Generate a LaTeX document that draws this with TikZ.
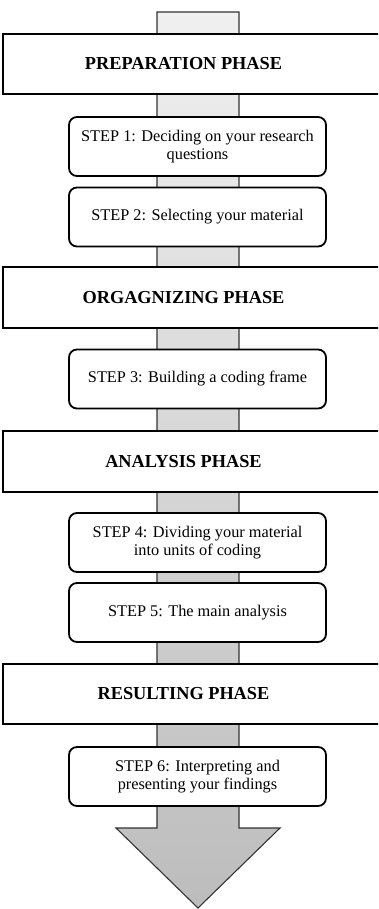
\documentclass[tikz,border=0pt]{standalone}
\usepackage{fontspec}
\setmainfont{Liberation Serif}
\begin{document}
\begin{tikzpicture}[x=1pt,y=-1pt,
  phase/.style={minimum width=345pt, minimum height=60pt, inner sep=0pt,
    font=\fontsize{18.3}{21}\selectfont\bfseries},
  phaseframe/.style={draw=black, line width=1.8pt, fill=white},
  stepbox/.style={draw=black, line width=1.8pt, fill=white, rounded corners=8pt,
    minimum width=257pt, minimum height=59pt, inner sep=0pt, align=center,
    font=\fontsize{16.3}{18}\selectfont},
  flow/.style={draw=black!80, line width=1.1pt, top color=black!6, bottom color=black!26}]
\useasboundingbox (0,0) rectangle (378,909);
\clip (0,0) rectangle (378,909);

% the downward flow arrow behind all boxes
\coordinate (top) at (198,12);
\coordinate (tip) at (198,908);
\draw[flow] ([xshift=-41pt]top) -- ([xshift=41pt]top) -- (239,828) -- (280,828)
  -- (tip) -- (116,828) -- (157,828) -- cycle;

% phases
\node[phase] (p1) at (183.5,64) {};
\node[phase] (p2) at (183.5,297.5) {};
\node[phase] (p3) at (183.5,461.5) {};
\node[phase] (p4) at (183.5,694) {};
\foreach \p in {p1,p2,p3,p4}
  \draw[phaseframe] ([xshift=-7.5pt]\p.north west) rectangle ([xshift=40pt]\p.south east);
\node[phase] at (p1) {PREPARATION PHASE};
\node[phase] at (p2) {ORGAGNIZING PHASE};
\node[phase] at (p3) {ANALYSIS PHASE};
\node[phase] at (p4) {RESULTING PHASE};

% steps
\node[stepbox] (s1) at (197.5,146.5) {STEP 1: Deciding on your research\\questions};
\node[stepbox] (s2) at (197.5,217) {STEP 2: Selecting your material};
\node[stepbox] (s3) at (197.5,379) {STEP 3: Building a coding frame};
\node[stepbox] (s4) at (197.5,542.5) {STEP 4: Dividing your material\\into units of coding};
\node[stepbox] (s5) at (197.5,612.5) {STEP 5: The main analysis};
\node[stepbox] (s6) at (197.5,776.5) {STEP 6: Interpreting and\\presenting your findings};
\end{tikzpicture}
\end{document}
